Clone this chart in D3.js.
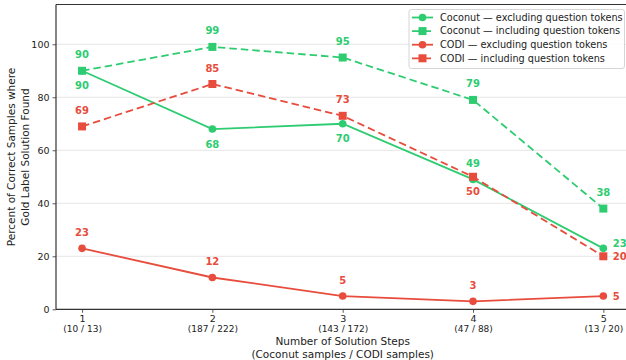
<!DOCTYPE html>
<html>
<head>
<meta charset="utf-8">
<script src="https://cdn.jsdelivr.net/npm/d3@7/dist/d3.min.js"></script>
<style>
  html, body { margin: 0; padding: 0; background: #fff; }
  svg { display: block; font-family: "DejaVu Sans", sans-serif; }
</style>
</head>
<body>
<svg id="chart" width="626" height="360"></svg>
<script>
// Solution-step buckets and sample counts
const steps = [1, 2, 3, 4, 5];
const sampleCounts = ["(10 / 13)", "(187 / 222)", "(143 / 172)", "(47 / 88)", "(13 / 20)"];
const yTicks = [0, 20, 40, 60, 80, 100];

// Percent of correct samples where the gold label solution was found
const coconutExcl = [90, 68, 70, 49, 23];
const coconutIncl = [90, 99, 95, 79, 38];
const codiExcl = [23, 12, 5, 3, 5];
const codiIncl = [69, 85, 73, 50, 20];

const GREEN = "#2ecc71", RED = "#e74c3c";

// Series styling and where each value label sits relative to its point
const series = [
  { name: "Coconut \u2014 excluding question tokens", values: coconutExcl, color: GREEN, dashed: false, marker: "circle",
    labels: ["below", "below", "below", "above", "rightUp"] },
  { name: "Coconut \u2014 including question tokens", values: coconutIncl, color: GREEN, dashed: true, marker: "square",
    labels: ["above", "above", "above", "above", "above"] },
  { name: "CODI \u2014 excluding question tokens", values: codiExcl, color: RED, dashed: false, marker: "circle",
    labels: ["above", "above", "above", "above", "right"] },
  { name: "CODI \u2014 including question tokens", values: codiIncl, color: RED, dashed: true, marker: "square",
    labels: ["above", "above", "above", "below", "right"] }
];

const svg = d3.select("#chart");
const x = d3.scaleLinear().domain([0.8, 5.2]).range([56, 629.4]);
const y = d3.scaleLinear().domain([0, 115]).range([309.3, 4.5]);

// horizontal grid
svg.append("g").selectAll("line").data(yTicks.filter(d => d > 0)).join("line")
  .attr("x1", x(0.8)).attr("x2", x(5.2))
  .attr("y1", d => y(d)).attr("y2", d => y(d))
  .attr("stroke", "#e6e6e6").attr("stroke-width", 1);

// axes
const yAxis = svg.append("g").attr("transform", `translate(${x(0.8)},0)`)
  .call(d3.axisLeft(y).tickValues(yTicks).tickSize(3.5).tickPadding(3));
const xAxis = svg.append("g").attr("transform", `translate(0,${y(0)})`)
  .call(d3.axisBottom(x).tickValues(steps).tickSize(3.5).tickPadding(2).tickFormat(d3.format("d")));
[yAxis, xAxis].forEach(g => {
  g.select(".domain").remove();
  g.selectAll(".tick line").attr("stroke", "#333").attr("stroke-width", 0.8);
  g.selectAll("text").attr("font-size", 9.5).attr("fill", "#222").attr("font-family", "DejaVu Sans");
});
xAxis.selectAll(".tick").append("text")
  .attr("y", 16).attr("dy", "0.71em").attr("text-anchor", "middle")
  .attr("font-size", 9).attr("fill", "#222").attr("font-family", "DejaVu Sans")
  .text((d, i) => sampleCounts[i]);

// spines (left, bottom, top)
svg.append("line").attr("x1", x(0.8)).attr("x2", x(0.8)).attr("y1", y(115)).attr("y2", y(0))
  .attr("stroke", "#333").attr("stroke-width", 1.2);
svg.append("line").attr("x1", x(0.8)).attr("x2", x(5.2)).attr("y1", y(0)).attr("y2", y(0))
  .attr("stroke", "#333").attr("stroke-width", 1.2);
svg.append("line").attr("x1", x(0.8)).attr("x2", x(5.2)).attr("y1", y(115)).attr("y2", y(115))
  .attr("stroke", "#333").attr("stroke-width", 1.2);

// lines, markers
const line = d3.line().x((d, i) => x(steps[i])).y(d => y(d));
function drawMarker(g, type, cx, cy, color) {
  if (type === "circle") {
    g.append("circle").attr("cx", cx).attr("cy", cy).attr("r", 3.8).attr("fill", color);
  } else {
    g.append("rect").attr("x", cx - 4).attr("y", cy - 4).attr("width", 8).attr("height", 8).attr("fill", color);
  }
}
series.forEach(s => {
  const g = svg.append("g");
  g.append("path").datum(s.values).attr("d", line)
    .attr("fill", "none").attr("stroke", s.color).attr("stroke-width", 1.8)
    .attr("stroke-dasharray", s.dashed ? "7.5,4" : null);
  s.values.forEach((v, i) => drawMarker(g, s.marker, x(steps[i]), y(v), s.color));
});

// value labels
series.forEach(s => {
  s.values.forEach((v, i) => {
    const px = x(steps[i]), py = y(v), side = s.labels[i];
    const t = svg.append("text").text(v)
      .attr("font-size", 10).attr("font-weight", "bold").attr("fill", s.color)
      .attr("font-family", "DejaVu Sans");
    if (side === "above") t.attr("x", px).attr("y", py - 12.5).attr("text-anchor", "middle");
    else if (side === "below") t.attr("x", px).attr("y", py + 18.5).attr("text-anchor", "middle");
    else if (side === "rightUp") t.attr("x", px + 9.5).attr("y", py - 1.5).attr("text-anchor", "start");
    else t.attr("x", px + 9.5).attr("y", py + 3.6).attr("text-anchor", "start");
  });
});

// axis titles
const yTitle = svg.append("text").attr("transform", `translate(11,157) rotate(-90)`)
  .attr("text-anchor", "middle").attr("font-size", 10.5).attr("fill", "#222");
yTitle.append("tspan").attr("x", 0).attr("dy", "0.35em").text("Percent of Correct Samples where");
yTitle.append("tspan").attr("x", 0).attr("dy", 14).text("Gold Label Solution Found");

const xMid = (x(0.8) + x(5.2)) / 2;
svg.append("text").attr("x", xMid).attr("y", 341.5).attr("dy", "0.35em")
  .attr("text-anchor", "middle").attr("font-size", 10.5).attr("fill", "#222").text("Number of Solution Steps");
svg.append("text").attr("x", xMid).attr("y", 354.5).attr("dy", "0.35em")
  .attr("text-anchor", "middle").attr("font-size", 10.5).attr("fill", "#222").text("(Coconut samples / CODI samples)");

// legend
const lg = svg.append("g");
lg.append("rect").attr("x", 409).attr("y", 9.5).attr("width", 215.5).attr("height", 59)
  .attr("rx", 2.5).attr("fill", "#fff").attr("fill-opacity", 0.85)
  .attr("stroke", "#d0d0d0").attr("stroke-width", 0.9);
series.forEach((s, i) => {
  const cy = 17.5 + i * 13.6;
  lg.append("line").attr("x1", 412).attr("x2", 433).attr("y1", cy).attr("y2", cy)
    .attr("stroke", s.color).attr("stroke-width", 1.8)
    .attr("stroke-dasharray", s.dashed ? "7.5,4" : null);
  drawMarker(lg, s.marker, 422.5, cy, s.color);
  lg.append("text").attr("x", 440).attr("y", cy).attr("dy", "0.35em")
    .attr("font-size", 9.7).attr("fill", "#222").text(s.name);
});
</script>
</body>
</html>
